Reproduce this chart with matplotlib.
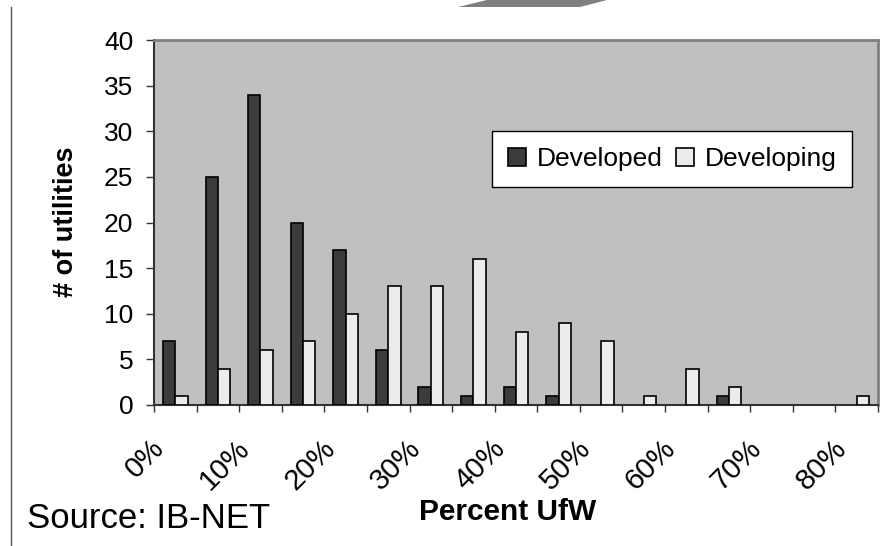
import numpy as np
import matplotlib
matplotlib.use("Agg")
import matplotlib.pyplot as plt
from matplotlib.patches import Polygon
from matplotlib.lines import Line2D
from matplotlib.transforms import ScaledTranslation

plt.rcParams['font.family'] = ['Liberation Sans', 'DejaVu Sans']

# Histogram of unaccounted-for water, in 5% bins
bins = ['0%', '5%', '10%', '15%', '20%', '25%', '30%', '35%', '40%',
        '45%', '50%', '55%', '60%', '65%', '70%', '75%', '80%']
developed = [7, 25, 34, 20, 17, 6, 2, 1, 2, 1, 0, 0, 0, 1, 0, 0, 0]
developing = [1, 4, 6, 7, 10, 13, 13, 16, 8, 9, 7, 1, 4, 2, 0, 0, 1]
y_ticks = [0, 5, 10, 15, 20, 25, 30, 35, 40]

W, H = 887, 546
fig = plt.figure(figsize=(W / 100, H / 100), dpi=100)
ax = fig.add_axes([154 / W, 1 - 405 / H, (878 - 154) / W, (405 - 40) / H])
ax.set_facecolor('#c0c0c0')

x = np.arange(len(bins))
bw = 0.29
b1 = ax.bar(x - bw / 2, developed, bw, color='#3c3c3c', edgecolor='black',
            linewidth=1.2, label='Developed', zorder=3)
b2 = ax.bar(x + bw / 2, developing, bw, color='#ececec', edgecolor='black',
            linewidth=1.2, label='Developing', zorder=3)
# empty bins get no bar at all
for r in list(b1) + list(b2):
    if r.get_height() == 0:
        r.set_visible(False)

ax.set_xlim(-0.5, len(bins) - 0.5)
ax.set_ylim(0, 40)
ax.set_yticks(y_ticks)
ax.tick_params(axis='y', length=6, width=1, pad=9, labelsize=19, color='#333333')

# tick marks between bins, labels on every other bin
ax.set_xticks(np.arange(len(bins) + 1) - 0.5)
ax.set_xticklabels([])
ax.tick_params(axis='x', which='major', length=5, width=1, color='#333333')
ax.set_xticks(x[::2], minor=True)
ax.set_xticklabels(bins[::2], minor=True, rotation=45, ha='right', va='top',
                   fontsize=21)
ax.tick_params(axis='x', which='minor', length=0, pad=21)
shift = ScaledTranslation(-0.05, 0, fig.dpi_scale_trans)
for lbl in ax.get_xticklabels(minor=True):
    lbl.set_transform(lbl.get_transform() + shift)

for side in ['top', 'right']:
    ax.spines[side].set_color('#808080')
    ax.spines[side].set_linewidth(2)
for side in ['left', 'bottom']:
    ax.spines[side].set_color('#333333')
    ax.spines[side].set_linewidth(1.5)

leg = ax.legend(loc='center', bbox_to_anchor=(0.7155, 0.674), ncol=2,
                fontsize=19, frameon=True, fancybox=False, framealpha=1,
                edgecolor='black', handlelength=0.7, handleheight=0.7,
                handletextpad=0.4, columnspacing=0.5, borderpad=0.6,
                borderaxespad=0)
leg.get_frame().set_linewidth(1)

fig.text(66 / W, 1 - 222 / H, '# of utilities', rotation=90, ha='center',
         va='center', fontsize=19.5, fontweight='bold')
fig.text(508 / W, 1 - 520 / H, 'Percent UfW', ha='center', va='baseline',
         fontsize=21.5, fontweight='bold')
fig.text(27 / W, 1 - 528 / H, 'Source: IB-NET', ha='left', va='baseline',
         fontsize=25)

# slide decoration: grey arrow tail at the top and rule on the left
fig.patches.append(Polygon([(458 / W, 1 - 7 / H), (580 / W, 1 - 7 / H),
                            (607 / W, 1.0), (487 / W, 1.0)],
                           closed=True, transform=fig.transFigure,
                           facecolor='#808080', edgecolor='none'))
fig.lines.append(Line2D([11 / W, 11 / W], [0, 1 - 7 / H],
                        transform=fig.transFigure, color='#555555',
                        linewidth=1))

fig.savefig('out.png', dpi=100)
